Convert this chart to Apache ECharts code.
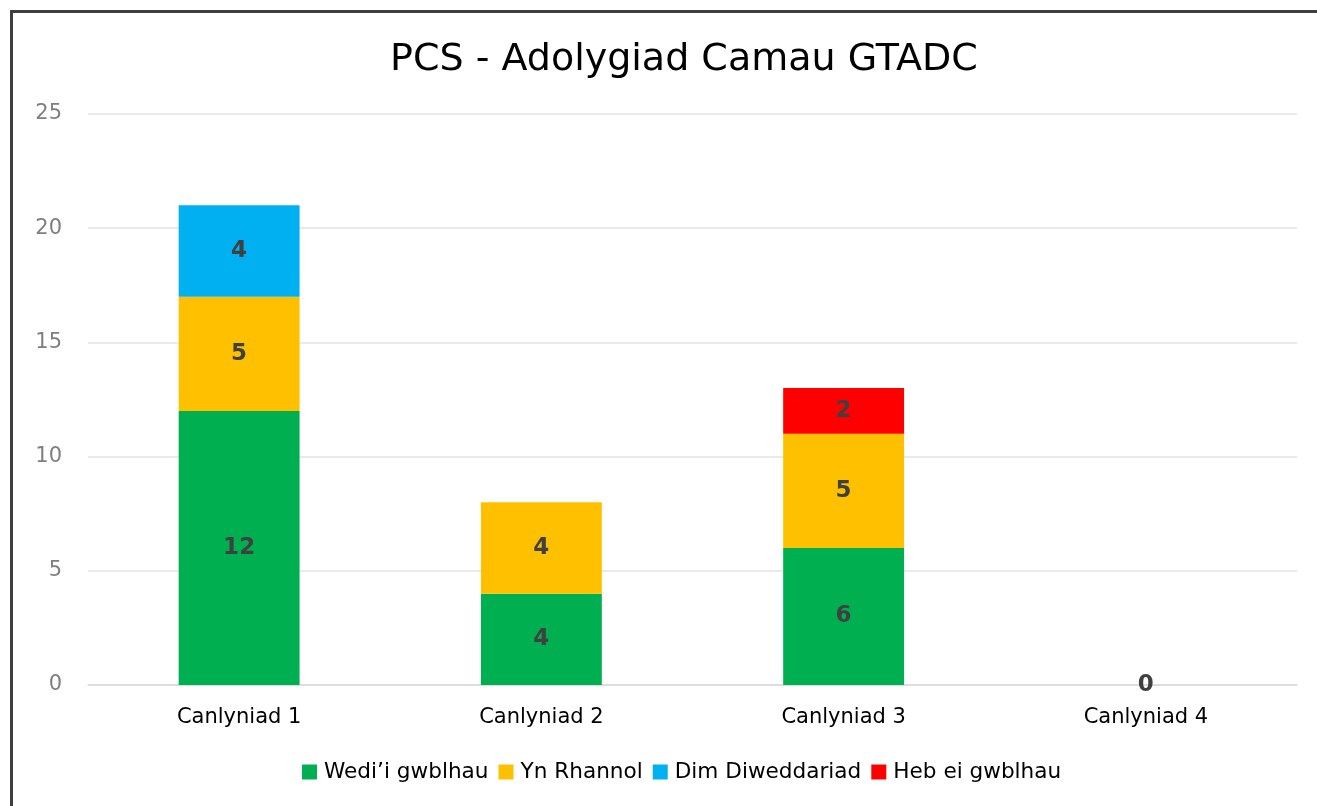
<!DOCTYPE html>
<html><head><meta charset="utf-8">
<script src="https://cdn.jsdelivr.net/npm/echarts@6/dist/echarts.min.js"></script>
<style>
html,body{margin:0;padding:0;background:#fff;overflow:hidden}
#frame{position:absolute;left:10px;top:10px;width:1330px;height:830px;border:3px solid #3f3f3f;box-sizing:border-box}
#c{position:absolute;left:0;top:0;width:1317px;height:806px}
</style></head>
<body>
<div id="frame"></div>
<div id="c"></div>
<script>
const categories = ['Canlyniad 1','Canlyniad 2','Canlyniad 3','Canlyniad 4'];
const seriesNames = ["Wedi\u2019i gwblhau","Yn Rhannol","Dim Diweddariad","Heb ei gwblhau"];
const wediGwblhau = [12, 4, 6, 0];
const ynRhannol = [5, 4, 5, null];
const dimDiweddariad = [4, null, null, null];
const hebGwblhau = [null, null, 2, null];
const yTicks = [0, 5, 10, 15, 20, 25];
const colors = ['#00B050','#FFC000','#00B0F0','#FF0000'];

const font = 'DejaVu Sans, Verdana, sans-serif';
const dataSets = [wediGwblhau, ynRhannol, dimDiweddariad, hebGwblhau];
const chart = echarts.init(document.getElementById('c'));
chart.setOption({
  animation:false,
  title:{text:'PCS - Adolygiad Camau GTADC',left:385,top:36,
    textStyle:{fontFamily:font,fontSize:38,fontWeight:'normal',color:'#000'}},
  grid:{left:88,right:20,top:114,bottom:121},
  legend:{bottom:18,left:297,itemWidth:15,itemHeight:15,itemGap:10,icon:'rect',
    textStyle:{fontFamily:font,fontSize:21.6,color:'#000',padding:[0,0,0,2]},data:seriesNames},
  xAxis:{type:'category',data:categories,
    axisLine:{lineStyle:{color:'#d9d9d9',width:1.5}},axisTick:{show:false},
    axisLabel:{fontFamily:font,fontSize:21,color:'#000',margin:22}},
  yAxis:{type:'value',min:yTicks[0],max:yTicks[yTicks.length-1],interval:5,
    axisLine:{show:false},axisTick:{show:false},
    splitLine:{lineStyle:{color:'#e3e3e3',width:1.5}},
    axisLabel:{fontFamily:font,fontSize:21,color:'#7f7f7f',margin:26}},
  series: seriesNames.map((n,i)=>({
    name:n,type:'bar',stack:'total',barWidth:'40%',
    data:dataSets[i],
    itemStyle:{color:colors[i]},
    label:{show:true,position:'inside',fontFamily:font,fontSize:23,fontWeight:'bold',color:'#404040',
      formatter:p=>p.value==null?'':String(p.value)}
  }))
});
</script>
</body></html>
